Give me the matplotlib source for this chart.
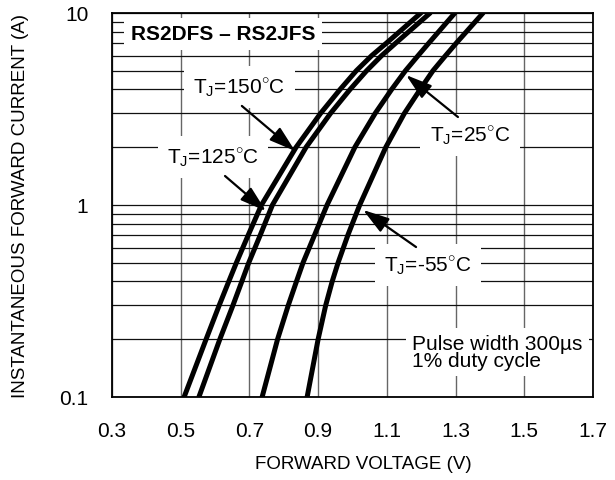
import matplotlib
matplotlib.use("Agg")
import matplotlib.pyplot as plt

plt.rcParams['font.family'] = ['Liberation Sans', 'DejaVu Sans']
plt.rcParams['mathtext.fontset'] = 'custom'
plt.rcParams['mathtext.rm'] = 'Liberation Sans'

# forward voltage (V) vs forward current (A)
current = [0.1, 0.2, 0.3, 0.4, 0.5, 0.7, 1, 2, 3, 4, 5, 6, 7, 10]
vf_150 = [0.510, 0.574, 0.612, 0.640, 0.662, 0.697, 0.735, 0.836, 0.907, 0.964, 1.011, 1.056, 1.100, 1.199]
vf_125 = [0.553, 0.614, 0.652, 0.678, 0.698, 0.732, 0.767, 0.865, 0.936, 0.993, 1.041, 1.085, 1.127, 1.226]
vf_25 = [0.737, 0.782, 0.813, 0.837, 0.856, 0.890, 0.926, 1.007, 1.066, 1.114, 1.154, 1.191, 1.223, 1.298]
vf_m55 = [0.868, 0.900, 0.922, 0.941, 0.958, 0.987, 1.021, 1.097, 1.151, 1.197, 1.234, 1.271, 1.303, 1.380]

xticks = [0.3, 0.5, 0.7, 0.9, 1.1, 1.3, 1.5, 1.7]
yticks = [0.1, 1, 10]
ylabels = ['0.1', '1', '10']

fig = plt.figure(figsize=(6.15, 4.81), dpi=100)
ax = fig.add_axes([0.1821, 0.1726, 0.7821, 0.7983])

for vf in (vf_150, vf_125, vf_25, vf_m55):
    ax.plot(vf, current, color='black', lw=3.6, solid_capstyle='round', zorder=4)

ax.set_yscale('log')
ax.set_xlim(0.3, 1.7)
ax.set_ylim(0.1, 10)
ax.set_xticks(xticks)
ax.set_xticklabels([f'{t:.1f}' for t in xticks])
ax.set_yticks(yticks)
ax.set_yticklabels(ylabels)
ax.yaxis.set_minor_formatter(plt.NullFormatter())
ax.tick_params(axis='both', which='both', length=0, labelsize=15)
ax.tick_params(axis='y', pad=17)
ax.tick_params(axis='x', pad=17)

ax.xaxis.grid(True, color='#666666', lw=1.0, zorder=1)
ax.yaxis.grid(True, which='both', color='#111111', lw=0.9, zorder=1)
ax.set_axisbelow(True)
for s in ax.spines.values():
    s.set_linewidth(1.3)

ax.set_xlabel('FORWARD VOLTAGE (V)', fontsize=13.5, va='center')
ax.xaxis.set_label_coords(0.522, -0.174)
ax.set_ylabel('INSTANTANEOUS FORWARD CURRENT (A)', fontsize=13.5, va='center')
ax.yaxis.set_label_coords(-0.19, 0.5)

box = dict(boxstyle='square,pad=0.45', fc='white', ec='none')
ax.text(0.623, 7.78, 'RS2DFS \u2013 RS2JFS', fontsize=15, fontweight='bold',
        ha='center', va='center', bbox=dict(boxstyle='square,pad=0.33', fc='white', ec='none'), zorder=3)
ax.text(0.670, 4.12, r'T$_{\rm J}$=150$^{\circ}$C', fontsize=15, ha='center', va='center', bbox=box, zorder=3)
ax.text(0.594, 1.778, r'T$_{\rm J}$=125$^{\circ}$C', fontsize=15, ha='center', va='center', bbox=box, zorder=3)
ax.text(1.342, 2.315, r'T$_{\rm J}$=25$^{\circ}$C', fontsize=15, ha='center', va='center', bbox=box, zorder=3)
ax.text(1.220, 0.487, r'T$_{\rm J}$=-55$^{\circ}$C', fontsize=15, ha='center', va='center', bbox=box, zorder=3)
ax.text(1.173, 0.1716, 'Pulse width 300\u00b5s\n1% duty cycle', fontsize=15, ha='left', va='center',
        linespacing=0.85, bbox=dict(boxstyle='square,pad=0.3', fc='white', ec='none'), zorder=3)

arrow = dict(arrowstyle='-|>,head_length=0.8,head_width=0.25', mutation_scale=20,
             lw=1.6, color='black', shrinkA=0, shrinkB=0)
ax.annotate('', xy=(0.833, 1.911), xytext=(0.678, 3.28), arrowprops=arrow, zorder=5)
ax.annotate('', xy=(0.748, 0.930), xytext=(0.629, 1.416), arrowprops=arrow, zorder=5)
ax.annotate('', xy=(1.156, 4.75), xytext=(1.307, 2.872), arrowprops=arrow, zorder=5)
ax.annotate('', xy=(1.031, 0.942), xytext=(1.185, 0.604), arrowprops=arrow, zorder=5)

fig.savefig('out.png', dpi=100)
